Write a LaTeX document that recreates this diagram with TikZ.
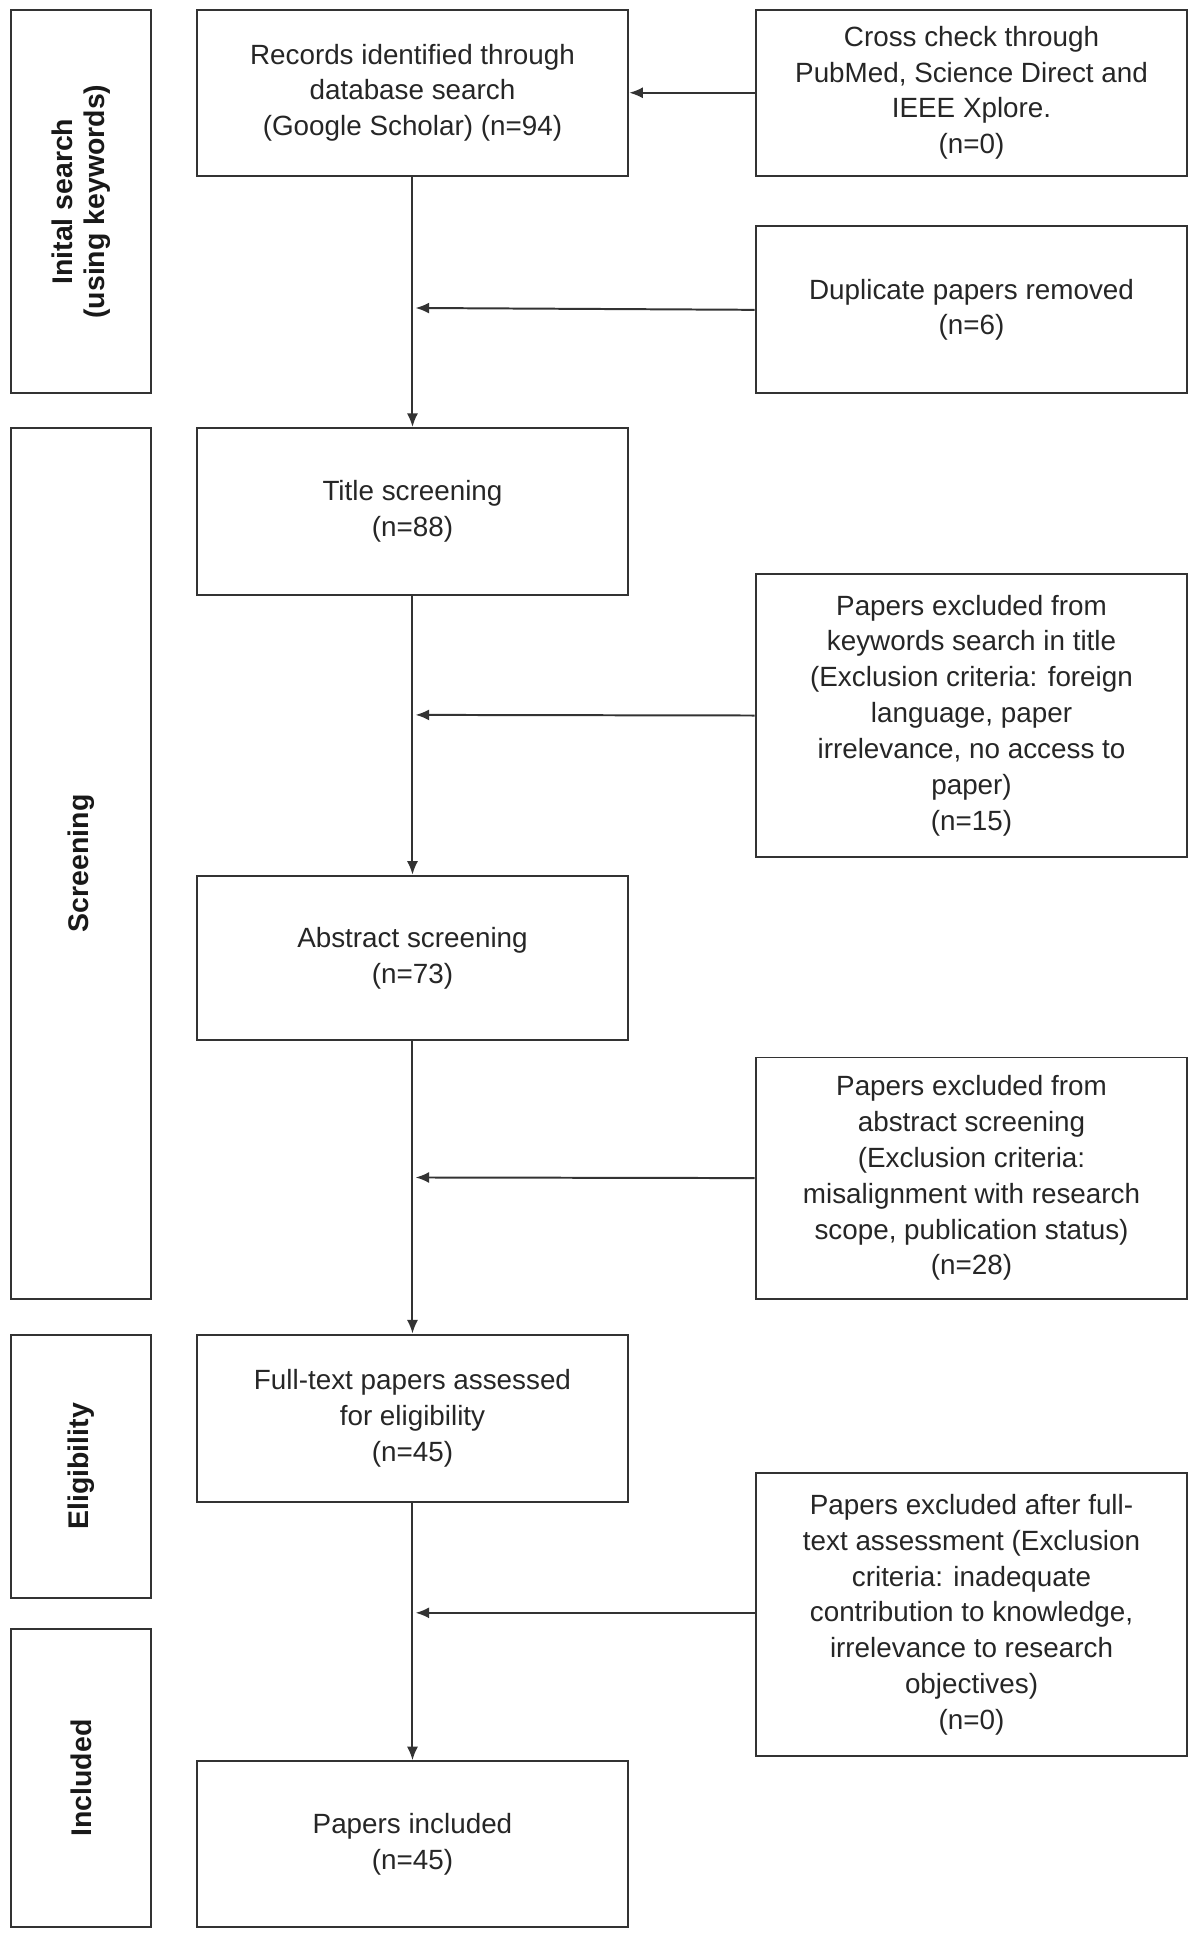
\documentclass[tikz,border=0pt]{standalone}
\usepackage{fontspec}
\setmainfont{Liberation Sans}
\usetikzlibrary{arrows.meta}
\begin{document}
\begin{tikzpicture}[x=1pt,y=-1pt,
 box/.style={draw=black!80,line width=1.6pt,align=center,text=black!85,font=\fontsize{22.5}{29}\selectfont,inner sep=4pt},
 side/.style={draw=black!80,line width=1.6pt,align=center,text=black!90},
 lab/.style={rotate=90,align=center,font=\fontsize{23}{26}\selectfont\bfseries,text=black!90},
 arr/.style={draw=black!80,line width=1.6pt,-{Latex[length=11pt,width=9pt]}}]
\useasboundingbox (0,0) rectangle (970,1575);
\newcommand{\bx}[6]{\node[#1,minimum width=#4-#2,minimum height=#5-#3] (#6) at ({(#2+#4)/2},{(#3+#5)/2}) {};}
% left
\bx{side}{9}{8}{122}{318}{L1}
\node[lab] (L1t) at (L1) {Inital search\\(using keywords)};
\bx{side}{9}{346}{122}{1050}{L2}
\node[lab] (L2t) at (L2) {Screening};
\bx{side}{9}{1079}{122}{1292}{L3}
\node[lab] (L3t) at (L3) {Eligibility};
\bx{side}{9}{1317}{122}{1558}{L4}
\node[lab] (L4t) at (L4) {Included};
% center
\bx{box}{159}{8}{508}{142}{C1}
\node[box,draw=none] (C1t) at (C1) {Records identified through\\database search\\(Google Scholar) (n=94)};
\bx{box}{159}{346}{508}{481}{C2}
\node[box,draw=none] (C2t) at (C2) {Title screening\\(n=88)};
\bx{box}{159}{708}{508}{841}{C3}
\node[box,draw=none] (C3t) at (C3) {Abstract screening\\(n=73)};
\bx{box}{159}{1079}{508}{1214}{C4}
\node[box,draw=none] (C4t) at (C4) {Full-text papers assessed\\for eligibility\\(n=45)};
\bx{box}{159}{1424}{508}{1558}{C5}
\node[box,draw=none] (C5t) at (C5) {Papers included\\(n=45)};
% right
\bx{box}{611}{8}{960}{142}{R1}
\node[box,draw=none] (R1t) at (R1) {Cross check through\\PubMed, Science Direct and\\IEEE Xplore.\\(n=0)};
\bx{box}{611}{183}{960}{318}{R2}
\node[box,draw=none] (R2t) at (R2) {Duplicate papers removed\\(n=6)};
\bx{box}{611}{464}{960}{693}{R3}
\node[box,draw=none] (R3t) at (R3) {Papers excluded from\\keywords search in title\\(Exclusion criteria: foreign\\language, paper\\irrelevance, no access to\\paper)\\(n=15)};
\bx{box}{611}{855}{960}{1050}{R4}
\node[box,draw=none] (R4t) at (R4) {Papers excluded from\\abstract screening\\(Exclusion criteria:\\misalignment with research\\scope, publication status)\\(n=28)};
\bx{box}{611}{1191}{960}{1420}{R5}
\node[box,draw=none] (R5t) at (R5) {Papers excluded after full-\\text assessment (Exclusion\\criteria: inadequate\\contribution to knowledge,\\irrelevance to research\\objectives)\\(n=0)};
% arrows
\draw[arr] (C1.south) -- (C2.north);
\draw[arr] (C2.south) -- (C3.north);
\draw[arr] (C3.south) -- (C4.north);
\draw[arr] (C4.south) -- (C5.north);
\draw[arr] (R1.west) -- (C1.east);
\coordinate (a2) at (336,249);
\coordinate (a3) at (336,578);
\coordinate (a4) at (336,952);
\coordinate (a5) at (336,1304);
\draw[arr] (R2.west) -- (a2);
\draw[arr] (R3.west) -- (a3);
\draw[arr] (R4.west) -- (a4);
\draw[arr] (R5.west |- a5) -- (a5);
\end{tikzpicture}
\end{document}
